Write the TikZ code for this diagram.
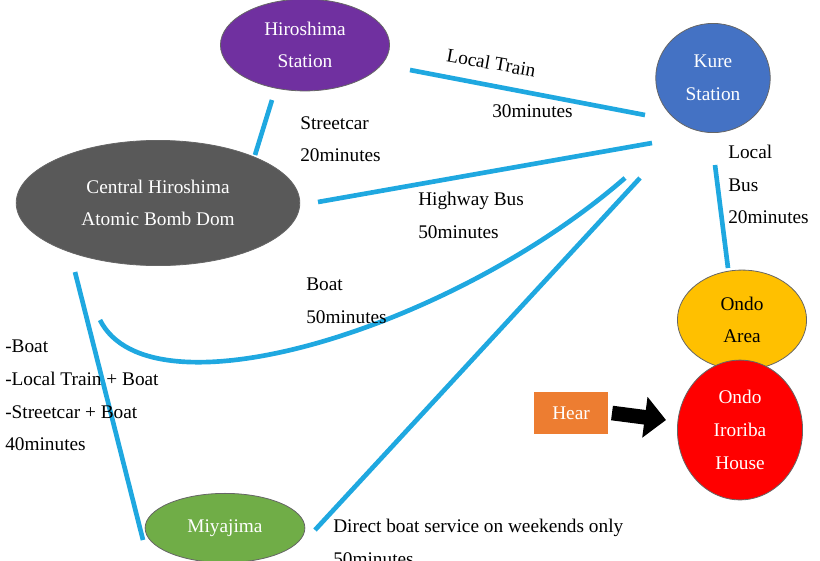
\documentclass[tikz,border=0pt]{standalone}
\usepackage{fontspec}
\setmainfont{Liberation Serif}
\usetikzlibrary{shapes.geometric,arrows.meta}
\definecolor{purp}{HTML}{7030A0}
\definecolor{kblue}{HTML}{4472C4}
\definecolor{dgray}{HTML}{595959}
\definecolor{gold}{HTML}{FFC000}
\definecolor{lgreen}{HTML}{70AD47}
\definecolor{orng}{HTML}{ED7D31}
\definecolor{route}{HTML}{1FA8E0}
\begin{document}
\begin{tikzpicture}[x=0.0264cm,y=-0.0264cm,
  place/.style={ellipse,draw=black!60,line width=0.6pt,inner sep=0pt,text=white,align=center,font=\fontsize{14.5}{24.5}\selectfont},
  way/.style={draw=route,line width=3.5pt},
  txt/.style={align=left,anchor=north west,inner sep=0pt,font=\fontsize{14.5}{24.5}\selectfont}]
\useasboundingbox (0,0) rectangle (820,560);

\node[place,fill=purp,minimum width=127pt,minimum height=69pt] (hs) at (305,45) {Hiroshima\\Station};
\node[place,fill=kblue,minimum width=86pt,minimum height=82pt] (ks) at (713,78) {Kure\\Station};
\node[place,fill=dgray,minimum width=213pt,minimum height=94pt] (ch) at (158,203) {Central Hiroshima\\Atomic Bomb Dom};
\node[place,fill=gold,text=black,minimum width=97pt,minimum height=75pt] (oa) at (742,320) {Ondo\\Area};
\node[place,fill=red,minimum width=94pt,minimum height=105pt] (oh) at (740,430) {Ondo\\Iroriba\\House};
\node[place,fill=lgreen,minimum width=120pt,minimum height=52pt] (mj) at (225,528) {Miyajima};
\node[fill=orng,text=white,minimum width=55pt,minimum height=32pt,font=\fontsize{14.5}{16}\selectfont] (hr) at (571,413) {Hear};

\coordinate (a1) at (410,70);  \coordinate (a2) at (645,115);
\coordinate (b1) at (255,155); \coordinate (b2) at (272,100);
\coordinate (c1) at (318,202); \coordinate (c2) at (652,143);
\coordinate (d1) at (100,320); \coordinate (d2) at (625,178);
\coordinate (e1) at (75,272);  \coordinate (e2) at (143,540);
\coordinate (f1) at (315,530); \coordinate (f2) at (640,178);
\coordinate (g1) at (715,165); \coordinate (g2) at (728,268);
\coordinate (k1) at (612,413); \coordinate (k2) at (666,420);

\draw[way] (a1) -- (a2);
\draw[way] (b1) -- (b2);
\draw[way] (c1) -- (c2);
\draw[way] (d1) .. controls (150,420) and (450,330) .. (d2);
\draw[way] (e1) -- (e2);
\draw[way] (f1) -- (f2);
\draw[way] (g1) -- (g2);
\draw[-{Triangle[length=16pt,width=30pt]},line width=11pt] (k1) -- (k2);

\node[txt,rotate=-10] (lt) at (448,48) {Local Train};
\node[txt] (lt2) at (492,104) {30minutes};
\node[txt] (sc) at (300,116) {Streetcar\\20minutes};
\node[txt] (hb) at (418,192) {Highway Bus\\50minutes};
\node[txt] (bt) at (306,278) {Boat\\50minutes};
\node[txt] (lb) at (728,145) {Local\\Bus\\20minutes};
\node[txt] (ls) at (5,340) {-Boat\\-Local Train + Boat\\-Streetcar + Boat\\40minutes};
\node[txt] (db) at (333,519) {Direct boat service on weekends only\\50minutes};
\end{tikzpicture}
\end{document}
